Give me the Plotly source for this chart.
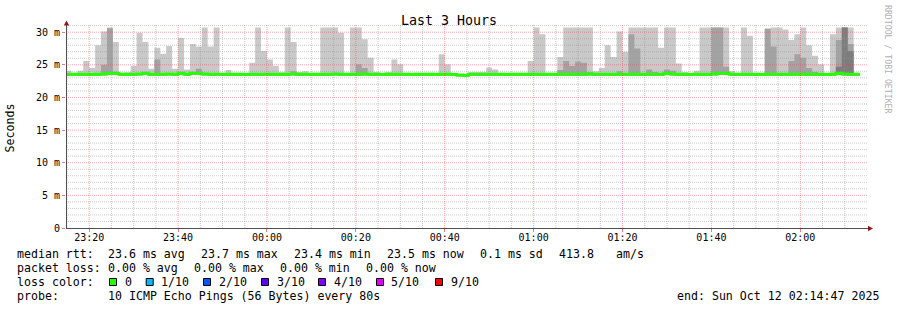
import plotly.graph_objects as go
import pandas as pd

# ---------------- data ----------------
title_text = "Last 3 Hours"
x_start = "2025-10-11 23:14:47"
x_end = "2025-10-12 02:14:47"
first_bin_end = "2025-10-11 23:16:00"
n_bins = 134
step_seconds = 80

# top of lightest smoke layer (max ping, ms; clipped at graph limit)
ping_max = [
    24.1, 23.8, 24.1, 25.6, 24.5, 28.0, 30.1, 30.7, 28.5, 23.8,
    23.9, 24.8, 29.9, 28.5, 24.4, 27.6, 26.7, 27.9, 24.4, 29.1,
    24.3, 28.2, 27.8, 30.7, 27.8, 30.7, 23.8, 24.2, 23.8, 23.8,
    23.8, 25.3, 30.7, 27.1, 25.8, 24.8, 23.9, 30.7, 28.5, 23.9,
    24.0, 23.8, 23.8, 30.7, 30.7, 30.7, 29.9, 23.8, 30.7, 30.7,
    28.9, 26.1, 23.9, 23.8, 23.9, 25.8, 25.1, 23.8, 23.8, 23.8,
    23.8, 23.8, 23.8, 26.6, 25.1, 23.8, 23.6, 23.6, 23.9, 23.9,
    23.9, 24.6, 24.3, 23.8, 23.8, 23.8, 23.8, 23.8, 25.6, 30.7,
    29.7, 23.8, 23.8, 26.2, 30.7, 30.7, 30.7, 30.7, 30.7, 24.0,
    24.5, 28.0, 26.2, 30.1, 27.0, 30.7, 30.7, 30.7, 30.7, 30.7,
    27.6, 30.7, 30.7, 25.2, 23.9, 23.8, 24.1, 30.7, 30.7, 30.7,
    30.7, 30.7, 24.0, 23.8, 30.7, 29.45, 23.8, 23.8, 30.6, 30.7,
    30.7, 30.4, 28.8, 29.7, 30.7, 28.0, 26.4, 25.1, 23.8, 29.7,
    30.7, 30.7, 30.7, 23.8,
]
# top of second smoke layer
mid_top = [
    23.7, 23.7, 23.7, 23.7, 23.7, 23.7, 25.0, 30.6, 23.9, 23.7,
    23.7, 23.7, 23.7, 23.9, 23.7, 25.8, 23.7, 23.7, 23.7, 23.9,
    23.7, 23.9, 24.4, 23.7, 23.7, 23.7, 23.7, 23.7, 23.7, 23.7,
    23.7, 23.7, 23.7, 23.7, 23.7, 23.7, 23.7, 23.7, 24.0, 23.7,
    23.7, 23.7, 23.7, 23.7, 23.7, 23.7, 23.7, 23.7, 23.7, 25.1,
    24.5, 23.7, 23.7, 23.7, 23.7, 23.7, 23.7, 23.7, 23.7, 23.7,
    23.7, 23.7, 23.7, 23.7, 23.7, 23.7, 23.5, 23.5, 23.7, 23.7,
    23.7, 23.7, 23.7, 23.7, 23.7, 23.7, 23.7, 23.7, 23.7, 23.7,
    23.7, 23.7, 23.7, 24.2, 25.6, 24.8, 25.5, 25.3, 23.9, 23.7,
    23.7, 23.7, 23.7, 24.0, 23.7, 29.7, 27.5, 23.7, 24.3, 23.9,
    23.7, 24.3, 24.1, 23.7, 23.7, 23.7, 23.7, 23.7, 23.7, 30.7,
    30.7, 24.7, 23.7, 23.7, 23.7, 23.7, 23.7, 23.7, 30.5, 27.8,
    23.7, 23.7, 25.6, 26.6, 26.1, 24.5, 23.9, 23.7, 23.7, 23.7,
    28.8, 30.7, 28.2, 23.7,
]
# top of third smoke layer
dark_top = [
    23.6, 23.6, 23.6, 23.6, 23.6, 23.6, 23.6, 23.6, 23.6, 23.6,
    23.6, 23.6, 23.6, 23.6, 23.6, 23.6, 23.6, 23.6, 23.6, 23.6,
    23.6, 23.6, 23.6, 23.6, 23.6, 23.6, 23.6, 23.6, 23.6, 23.6,
    23.6, 23.6, 23.6, 23.6, 23.6, 23.6, 23.6, 23.6, 23.6, 23.6,
    23.6, 23.6, 23.6, 23.6, 23.6, 23.6, 23.6, 23.6, 23.6, 23.6,
    23.6, 23.6, 23.6, 23.6, 23.6, 23.6, 23.6, 23.6, 23.6, 23.6,
    23.6, 23.6, 23.6, 23.6, 23.6, 23.6, 23.45, 23.45, 23.6, 23.6,
    23.6, 23.6, 23.6, 23.6, 23.6, 23.6, 23.6, 23.6, 23.6, 23.6,
    23.6, 23.6, 23.6, 23.6, 23.6, 23.6, 23.6, 23.6, 23.6, 23.6,
    23.6, 23.6, 23.6, 23.6, 23.6, 23.6, 23.6, 23.6, 23.6, 23.6,
    23.6, 23.6, 23.6, 23.6, 23.6, 23.6, 23.6, 23.6, 23.6, 23.6,
    23.6, 23.6, 23.6, 23.6, 23.6, 23.6, 23.6, 23.6, 23.6, 23.6,
    23.6, 23.6, 23.6, 23.6, 23.6, 23.6, 23.6, 23.6, 23.6, 23.6,
    24.7, 30.7, 27.1, 23.6,
]
# min ping (bottom of smoke)
ping_min = [
    23.35, 23.35, 23.35, 23.35, 23.3, 23.35, 23.4, 23.5, 23.5, 23.35,
    23.3, 23.35, 23.4, 23.5, 23.35, 23.35, 23.35, 23.4, 23.35, 23.5,
    23.35, 23.5, 23.5, 23.4, 23.35, 23.35, 23.35, 23.35, 23.35, 23.35,
    23.3, 23.35, 23.35, 23.35, 23.35, 23.35, 23.3, 23.35, 23.4, 23.35,
    23.35, 23.35, 23.35, 23.35, 23.35, 23.4, 23.35, 23.35, 23.35, 23.35,
    23.4, 23.35, 23.35, 23.3, 23.35, 23.35, 23.35, 23.35, 23.3, 23.35,
    23.35, 23.35, 23.3, 23.35, 23.35, 23.3, 23.25, 23.2, 23.35, 23.35,
    23.35, 23.35, 23.35, 23.35, 23.3, 23.35, 23.35, 23.35, 23.35, 23.35,
    23.35, 23.35, 23.35, 23.35, 23.35, 23.35, 23.35, 23.35, 23.4, 23.35,
    23.35, 23.35, 23.35, 23.35, 23.35, 23.35, 23.35, 23.35, 23.35, 23.35,
    23.35, 23.5, 23.4, 23.35, 23.35, 23.3, 23.35, 23.35, 23.35, 23.4,
    23.5, 23.5, 23.35, 23.35, 23.35, 23.35, 23.35, 23.3, 23.35, 23.35,
    23.35, 23.35, 23.35, 23.35, 23.35, 23.35, 23.35, 23.35, 23.3, 23.35,
    23.5, 23.4, 23.35, 23.35,
]
# median rtt (ms)
median_rtt = [
    23.55, 23.55, 23.55, 23.55, 23.5, 23.55, 23.6, 23.7, 23.7, 23.55,
    23.5, 23.55, 23.6, 23.7, 23.55, 23.55, 23.55, 23.6, 23.55, 23.7,
    23.55, 23.7, 23.7, 23.6, 23.55, 23.55, 23.55, 23.55, 23.55, 23.55,
    23.5, 23.55, 23.55, 23.55, 23.55, 23.55, 23.5, 23.55, 23.6, 23.55,
    23.55, 23.55, 23.55, 23.55, 23.55, 23.6, 23.55, 23.55, 23.55, 23.55,
    23.6, 23.55, 23.55, 23.5, 23.55, 23.55, 23.55, 23.55, 23.5, 23.55,
    23.55, 23.55, 23.5, 23.55, 23.55, 23.5, 23.45, 23.4, 23.55, 23.55,
    23.55, 23.55, 23.55, 23.55, 23.5, 23.55, 23.55, 23.55, 23.55, 23.55,
    23.55, 23.55, 23.55, 23.55, 23.55, 23.55, 23.55, 23.55, 23.6, 23.55,
    23.55, 23.55, 23.55, 23.55, 23.55, 23.55, 23.55, 23.55, 23.55, 23.55,
    23.55, 23.7, 23.6, 23.55, 23.55, 23.5, 23.55, 23.55, 23.55, 23.6,
    23.7, 23.7, 23.55, 23.55, 23.55, 23.55, 23.55, 23.5, 23.55, 23.55,
    23.55, 23.55, 23.55, 23.55, 23.55, 23.55, 23.55, 23.55, 23.5, 23.55,
    23.7, 23.6, 23.55, 23.55,
]

y_tickvals = [0, 5, 10, 15, 20, 25, 30]
y_ticktext = ["0", "5 m", "10 m", "15 m", "20 m", "25 m", "30 m"]
y_max = 31.1

loss_colors = ["#26ff00", "#00b8ff", "#0059ff", "#5e00ff", "#7e00ff", "#dd00ff", "#ff0000"]
loss_labels = ["0", "1/10", "2/10", "3/10", "4/10", "5/10", "9/10"]

legend_line1 = ["median rtt:", "23.6 ms avg", "23.7 ms max", "23.4 ms min",
                "23.5 ms now", "0.1 ms sd", "413.8", "am/s"]
legend_line2 = ["packet loss:", "0.00 % avg", "0.00 % max", "0.00 % min", "0.00 % now"]
legend_line3_head = "loss color:"
legend_line4 = ["probe:", "10 ICMP Echo Pings (56 Bytes) every 80s"]
end_text = "end: Sun Oct 12 02:14:47 2025"
y_title = "Seconds"
watermark = "RRDTOOL / TOBI OETIKER"

# ---------------- layout geometry (pixels) ----------------
W, H = 897, 310
L, R, T, B = 66, 866, 25, 228
PW, PH = R - L, B - T


def px(X):
    return (X - L) / PW


def py(Y):
    return (B - Y) / PH


MONO = "DejaVu Sans Mono"

bin_end = pd.date_range(first_bin_end, periods=n_bins, freq=f"{step_seconds}s")
bin_start = bin_end - pd.Timedelta(seconds=step_seconds)
step_x = list(bin_start) + [bin_end[-1]]

fig = go.Figure()


def smoke(top, bottom, color):
    # rrdtool-style AREA: filled step band between bottom and top
    fig.add_trace(go.Scatter(
        x=step_x, y=bottom + [bottom[-1]], mode="lines",
        line=dict(width=0, shape="hv", color=color),
        hoverinfo="skip", showlegend=False))
    fig.add_trace(go.Scatter(
        x=step_x, y=top + [top[-1]], mode="lines",
        line=dict(width=0, shape="hv", color=color),
        fill="tonexty", fillcolor=color,
        hoverinfo="skip", showlegend=False))


smoke(ping_max, ping_min, "#c9c9c9")
smoke(mid_top, ping_min, "#a3a3a3")
smoke(dark_top, ping_min, "#7d7d7d")

fig.add_trace(go.Scatter(
    x=step_x, y=median_rtt + [median_rtt[-1]],
    mode="lines", line=dict(color=loss_colors[0], width=3, shape="hv"),
    hoverinfo="skip", showlegend=False))

# ---------------- grid (drawn above smoke, as rrdtool does) ----------------
shapes = []
minor_col = "rgba(150,150,150,0.5)"
major_col = "rgba(255,60,60,0.45)"
for v in range(1, 32):
    if v > y_max:
        break
    col = major_col if v % 5 == 0 else minor_col
    shapes.append(dict(type="line", xref="paper", yref="y", x0=0, x1=px(868),
                       y0=v, y1=v, layer="above",
                       line=dict(color=col, width=1, dash="1px,1px")))
grid_times = pd.date_range("2025-10-11 23:15:00", "2025-10-12 02:10:00", freq="5min")
major_times = [t for t in grid_times if t.minute % 20 == 0]
for t in grid_times:
    col = major_col if t.minute % 20 == 0 else minor_col
    shapes.append(dict(type="line", xref="x", yref="paper", x0=t, x1=t,
                       y0=0, y1=1, layer="above",
                       line=dict(color=col, width=1, dash="1px,1px")))

# axis lines and arrow heads
axis_col = "#505050"
shapes.append(dict(type="line", xref="paper", yref="paper", x0=px(66.5), x1=px(66.5),
                   y0=py(228.5), y1=py(22), layer="above", line=dict(color=axis_col, width=1)))
shapes.append(dict(type="line", xref="paper", yref="paper", x0=px(66), x1=px(869),
                   y0=py(228.5), y1=py(228.5), layer="above", line=dict(color=axis_col, width=1)))
arrow_col = "#8b1a1a"
shapes.append(dict(type="path", xref="paper", yref="paper", layer="above",
                   path=f"M {px(63.8)},{py(25.5)} L {px(66.5)},{py(20.5)} L {px(69.2)},{py(25.5)} Z",
                   fillcolor=arrow_col, line=dict(width=0)))
shapes.append(dict(type="path", xref="paper", yref="paper", layer="above",
                   path=f"M {px(868)},{py(225.8)} L {px(873)},{py(228.5)} L {px(868)},{py(231.2)} Z",
                   fillcolor=arrow_col, line=dict(width=0)))

# ---------------- texts ----------------
ann = []


def text(X, Y, s, size=11.6, anchor="left", color="#000000", angle=0):
    ann.append(dict(xref="paper", yref="paper", x=px(X), y=py(Y), text=s,
                    showarrow=False, xanchor=anchor, yanchor="middle", textangle=angle,
                    font=dict(family=MONO, size=size, color=color)))


text(448.5, 20.4, title_text, size=13.3, anchor="center")
text(10, 127.4, y_title, size=11.6, anchor="center", angle=-90)
text(888, 59, watermark, size=8.2, anchor="center", color="#b0b0b0", angle=90)

line1_x = [16, 107.3, 200, 293.3, 386.7, 479.3, 558.3, 615]
for X, s in zip(line1_x, legend_line1):
    text(X - 1.5, 254.3, s)
line2_x = [16, 107.3, 193.3, 279.3, 365.7]
for X, s in zip(line2_x, legend_line2):
    text(X - 1.5, 268.3, s)
text(16 - 1.5, 282.3, legend_line3_head)
box_x = [109, 145.7, 203, 261, 318, 376, 435]
lab_x = [124, 160.7, 218.3, 276, 333, 390.7, 450]
for bx, lx, c, s in zip(box_x, lab_x, loss_colors, loss_labels):
    shapes.append(dict(type="rect", xref="paper", yref="paper",
                       x0=px(bx + 0.5), x1=px(bx + 7.5), y0=py(285.5), y1=py(278.5),
                       fillcolor=c, line=dict(color="#000000", width=1), layer="above"))
    text(lx - 1.5, 282.3, s)
text(16 - 1.5, 296.3, legend_line4[0])
text(107.3 - 1.5, 296.3, legend_line4[1])
text(881, 296.3, end_text, anchor="right")

fig.update_layout(
    width=W, height=H,
    margin=dict(l=L, r=W - R, t=T, b=H - B, pad=0),
    paper_bgcolor="#ffffff", plot_bgcolor="#ffffff",
    showlegend=False,
    shapes=shapes, annotations=ann,
    xaxis=dict(type="date", range=[x_start, x_end], showgrid=False, zeroline=False,
               showline=False, tickvals=major_times,
               ticktext=[t.strftime("%H:%M") for t in major_times],
               ticks="outside", ticklen=3, tickwidth=1, tickcolor="rgba(255,60,60,0.7)",
               ticklabelstandoff=-3,
               tickfont=dict(family=MONO, size=10, color="#000000")),
    yaxis=dict(range=[0, y_max], showgrid=False, zeroline=False, showline=False,
               tickvals=y_tickvals, ticktext=y_ticktext,
               ticks="outside", ticklen=3, tickwidth=1, tickcolor="rgba(255,60,60,0.7)",
               tickfont=dict(family=MONO, size=10, color="#000000")),
)

fig.write_html("out.html")
